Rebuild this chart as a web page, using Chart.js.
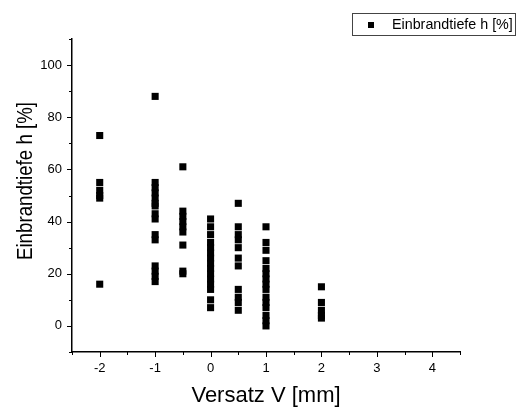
<!DOCTYPE html>
<html>
<head>
<meta charset="utf-8">
<script src="https://cdn.jsdelivr.net/npm/chart.js@4/dist/chart.umd.min.js"></script>
<style>
  html, body { margin: 0; padding: 0; background: #fff; }
  #wrap { width: 520px; height: 408px; }
</style>
</head>
<body>
<div id="wrap"><canvas id="scatter" width="520" height="408"></canvas></div>
<script>
// values
const versatz = [-2, -1, -0.5, 0, 0.5, 1, 2];
const einbrand = [
    [73, 55, 52, 50, 49, 16],
    [88, 55, 53, 51, 49, 47, 46, 43, 41, 35, 33, 23, 21, 19, 17],
    [61, 44, 42, 40, 38, 36, 31, 21, 20],
    [41, 38, 35, 32, 30, 28, 26, 24, 22, 20, 18, 16, 14, 10, 7],
    [47, 38, 35, 33, 30, 26, 23, 14, 11, 9, 6],
    [38, 32, 29, 25, 22, 20, 18, 16, 14, 11, 9, 7, 4, 2, 0],
    [15, 9, 6, 4, 3]
];
const seriesLabel = 'Einbrandtiefe h [%]';
const xTitle = 'Versatz V [mm]';
const yTitle = 'Einbrandtiefe h [%]';
const xTickLabels = [-2, -1, 0, 1, 2, 3, 4];
const yTickLabels = [0, 20, 40, 60, 80, 100];

var points = [];
versatz.forEach(function (v, i) {
    einbrand[i].forEach(function (h) { points.push({ x: v, y: h }); });
});

var FONT = 'Liberation Sans, Arial, sans-serif';

var extras = {
    id: 'extras',
    afterDraw: function (chart) {
        var c = chart.ctx, xs = chart.scales.x, ys = chart.scales.y, a = chart.chartArea;
        c.save();
        c.strokeStyle = '#000';
        c.lineWidth = 1;
        // y ticks, major every 20, minor every 10
        for (var v = -10; v <= 110; v += 10) {
            var py = Math.round(ys.getPixelForValue(v)) + 0.5;
            var len = (v % 20 === 0) ? 5 : 3;
            c.beginPath(); c.moveTo(a.left - len, py); c.lineTo(a.left, py); c.stroke();
        }
        // x ticks, major every 1, minor every 0.5
        for (var k = -5; k <= 9; k++) {
            var xv = k / 2;
            var px = Math.round(xs.getPixelForValue(xv)) + 0.5;
            var l2 = (k % 2 === 0) ? 5 : 3;
            c.beginPath(); c.moveTo(px, a.bottom); c.lineTo(px, a.bottom + l2); c.stroke();
        }
        // axis titles
        c.fillStyle = '#000';
        c.font = '22px ' + FONT;
        c.textAlign = 'center';
        c.textBaseline = 'middle';
        c.fillText(xTitle, (a.left + a.right) / 2, 396);
        c.save();
        c.translate(26, 181);
        c.rotate(-Math.PI / 2);
        c.scale(0.85, 1);
        c.fillText(yTitle, 0, 0);
        c.restore();
        // legend box
        c.strokeStyle = '#444';
        c.strokeRect(352.5, 13.5, 163, 22);
        c.fillRect(368, 22, 6, 6);
        c.font = '14.3px ' + FONT;
        c.textAlign = 'left';
        c.fillText(seriesLabel, 392, 25);
        c.restore();
    }
};

var ctx = document.getElementById('scatter').getContext('2d');
var myChart = new Chart(ctx, {
    type: 'scatter',
    data: {
        datasets: [{
            label: seriesLabel,
            data: points,
            pointStyle: 'rect',
            pointRadius: 5,
            pointHoverRadius: 5,
            backgroundColor: '#000',
            borderColor: '#000',
            borderWidth: 0
        }]
    },
    options: {
        responsive: false,
        animation: false,
        layout: { padding: { left: 0, top: 39, right: 60, bottom: 0 } },
        plugins: { legend: { display: false }, tooltip: { enabled: false } },
        scales: {
            x: {
                type: 'linear',
                min: -2.5,
                max: 4.5,
                afterFit: function (s) { s.height = 56; },
                afterBuildTicks: function (s) {
                    s.ticks = xTickLabels.map(function (v) { return { value: v }; });
                },
                grid: { display: false, drawTicks: false },
                border: { display: true, color: '#000', width: 1.5 },
                ticks: {
                    color: '#000',
                    padding: 9,
                    maxRotation: 0,
                    font: { family: FONT, size: 13 }
                }
            },
            y: {
                type: 'linear',
                min: -10,
                max: 110,
                afterFit: function (s) { s.width = 72; },
                afterBuildTicks: function (s) {
                    s.ticks = yTickLabels.map(function (v) { return { value: v }; });
                },
                grid: { display: false, drawTicks: false },
                border: { display: true, color: '#000', width: 1.5 },
                ticks: {
                    color: '#000',
                    padding: 10,
                    font: { family: FONT, size: 13 }
                }
            }
        }
    },
    plugins: [extras]
});
</script>
</body>
</html>
